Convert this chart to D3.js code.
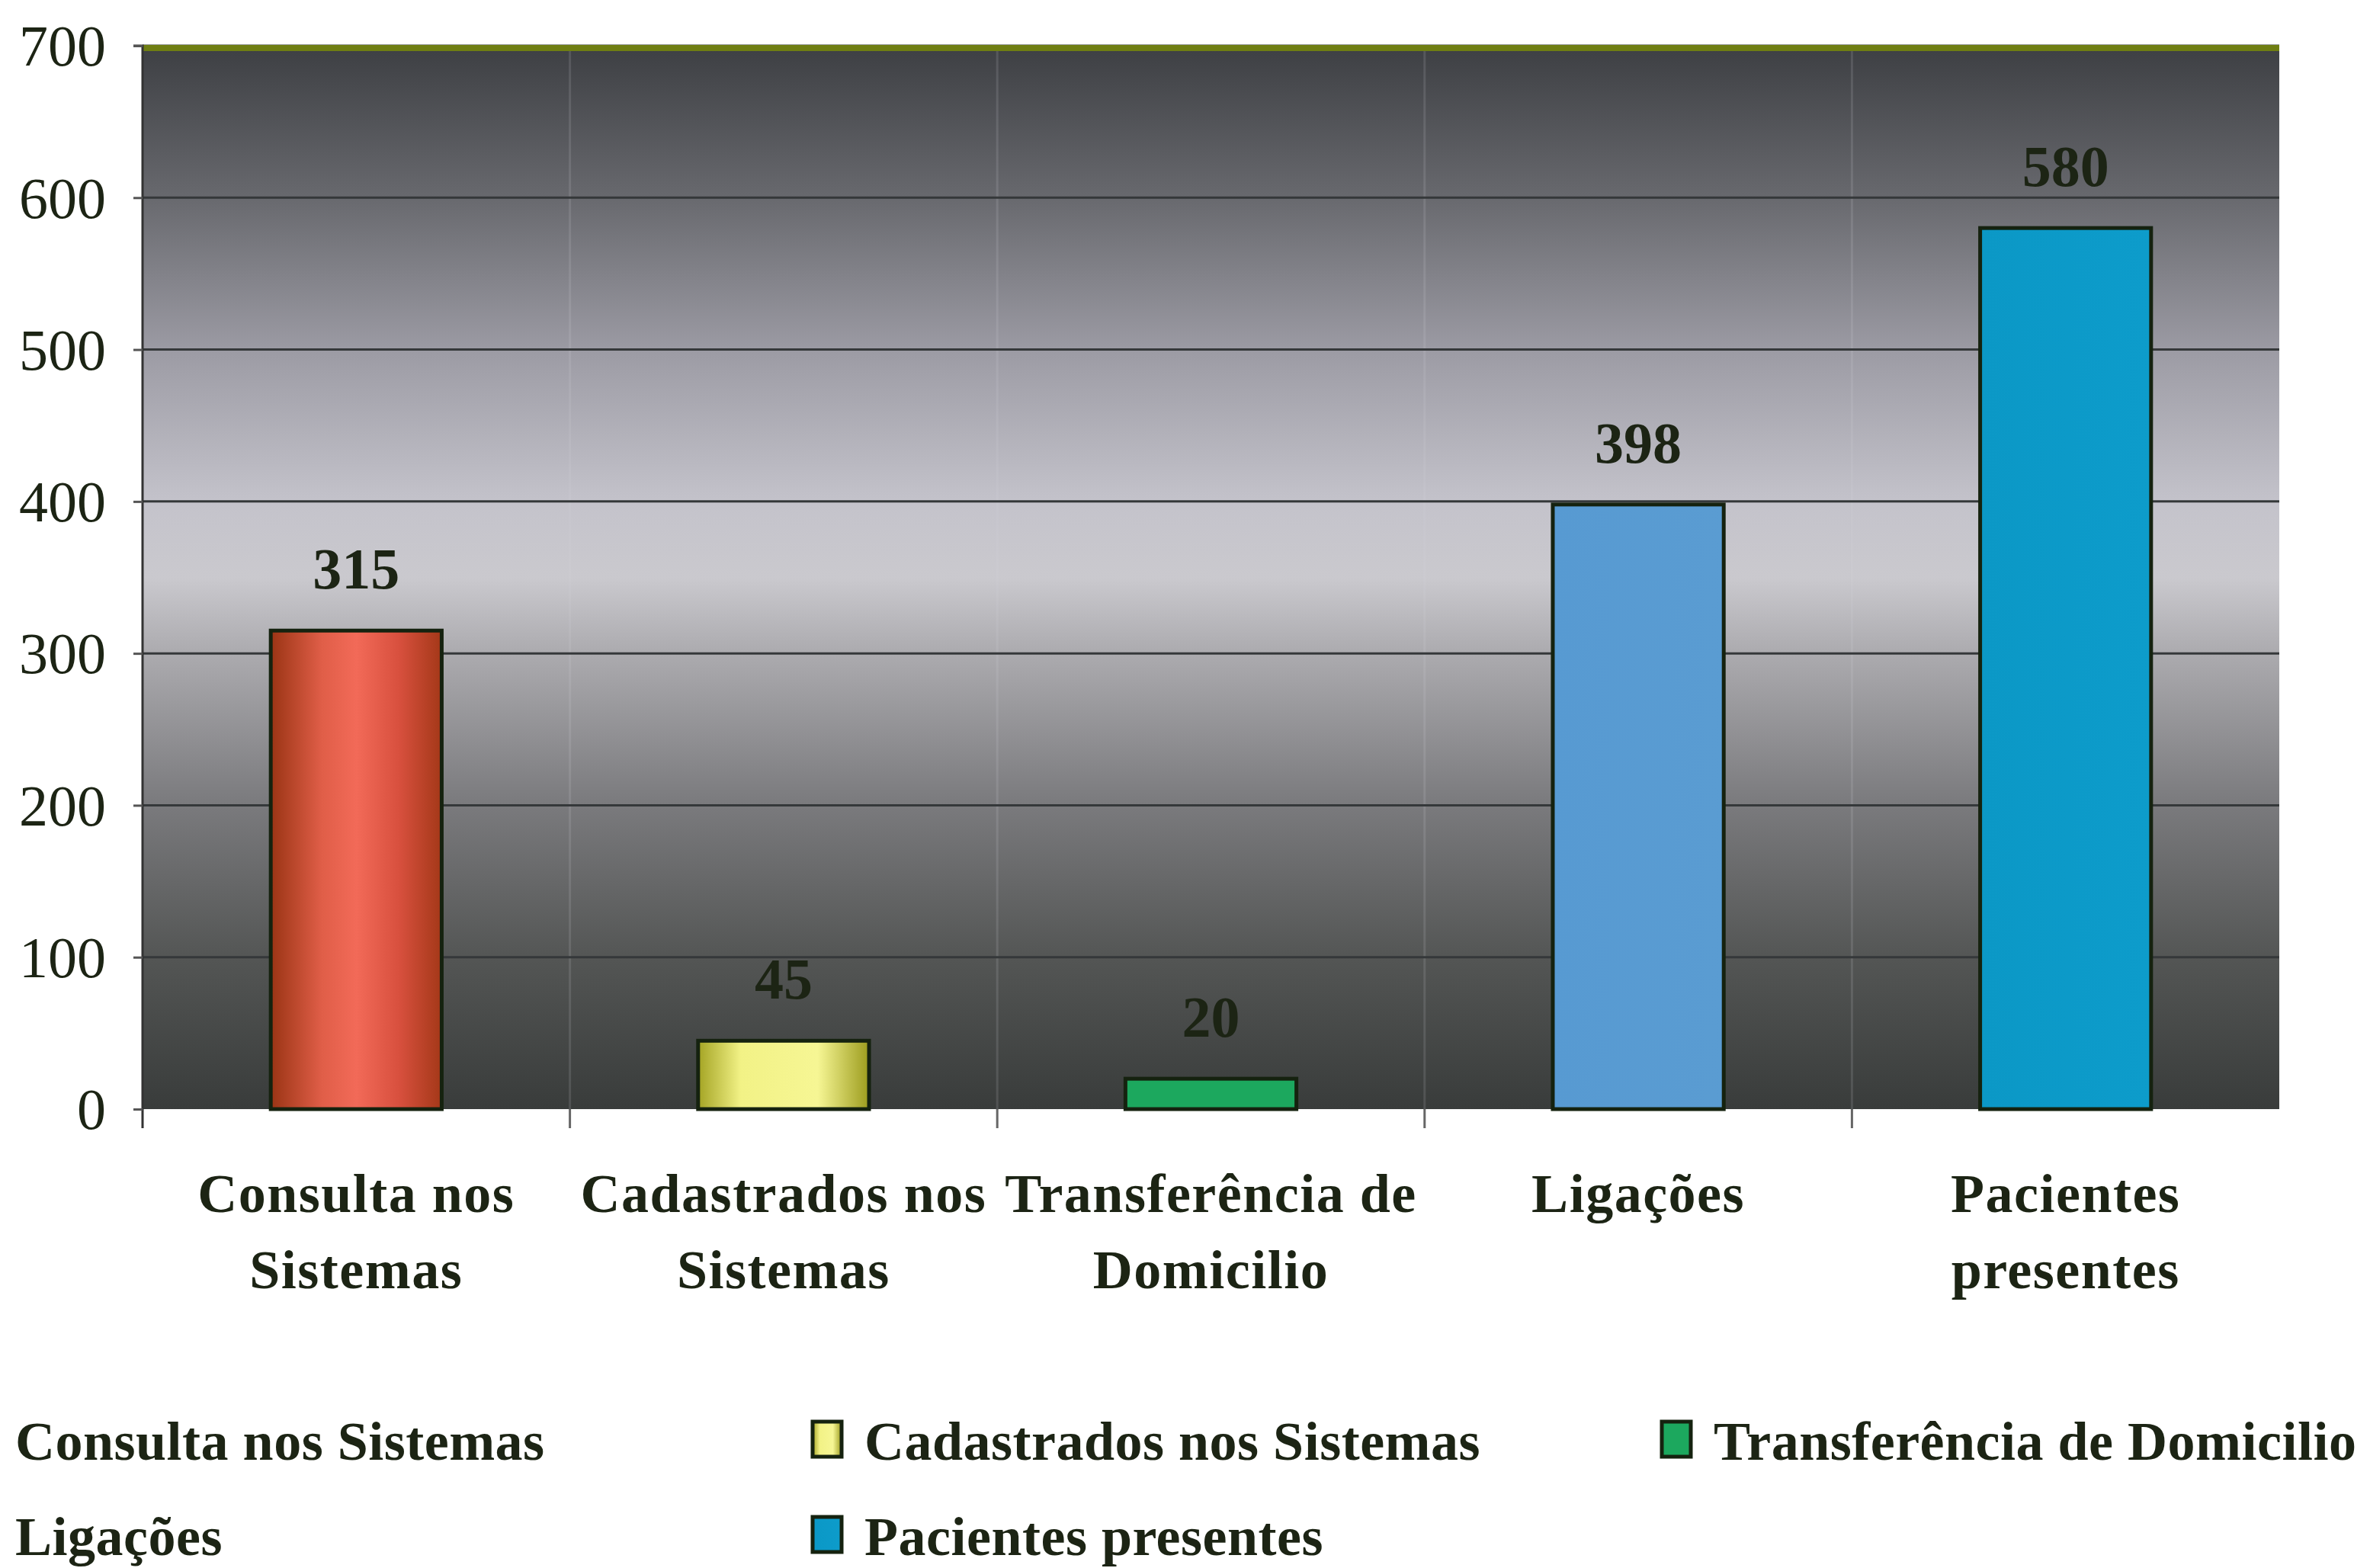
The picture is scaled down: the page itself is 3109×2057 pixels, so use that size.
<!DOCTYPE html>
<html>
<head>
<meta charset="utf-8">
<script src="https://cdn.jsdelivr.net/npm/d3@7"></script>
<style>
  body { margin: 0; background: #fff; }
  text { font-family: "Liberation Serif", "Times New Roman", serif; }
</style>
</head>
<body>
<div class="canvas"></div>
<script>
// chart data
const categories = ['Consulta nos Sistemas', 'Cadastrados nos Sistemas', 'Transferência de Domicilio', 'Ligações', 'Pacientes presentes'];
const values = [315, 45, 20, 398, 580];
// axis labels split on two lines
const axisLines = [['Consulta nos', 'Sistemas'], ['Cadastrados nos', 'Sistemas'], ['Transferência de', 'Domicilio'], ['Ligações'], ['Pacientes', 'presentes']];
const yTicks = [0, 100, 200, 300, 400, 500, 600, 700];
// legend layout: rows of category indexes
const legendRows = [[0, 1, 2], [3, 4]];

// graph setup
const dims = { width: 3109, height: 2057 };
const plot = { left: 187, right: 2990, top: 60, bottom: 1455 };
const textColor = '#1c2414';

const svg = d3.select('.canvas')
  .append('svg')
  .attr('width', dims.width)
  .attr('height', dims.height);

const defs = svg.append('defs');

// background gradient (dark edges, light middle)
const bg = defs.append('linearGradient')
  .attr('id', 'bg').attr('x1', 0).attr('y1', 0).attr('x2', 0).attr('y2', 1);
[[0, '#3d3f43'], [0.14, '#67686d'], [0.29, '#9d9ca5'], [0.43, '#c4c3cb'],
 [0.5, '#cac9ce'], [0.57, '#acabaf'], [0.71, '#7b7b7e'], [0.86, '#535554'], [1, '#393c3b']]
  .forEach(s => bg.append('stop').attr('offset', s[0]).attr('stop-color', s[1]));

// bar fills
const fills = [
  [[0, '#9a3414'], [0.3, '#e05e48'], [0.5, '#f26a58'], [0.75, '#d8503e'], [1, '#a43818']],
  [[0, '#a4a424'], [0.25, '#f2f286'], [0.7, '#f6f694'], [1, '#9c9c1e']],
  [[0, '#1ca85e'], [1, '#1ca85e']],
  [[0, '#579ad2'], [1, '#5a9cd2']],
  [[0, '#0b98c6'], [1, '#0d9ccb']]
];
fills.forEach((stops, i) => {
  const g = defs.append('linearGradient').attr('id', 'bar' + i)
    .attr('x1', 0).attr('y1', 0).attr('x2', 1).attr('y2', 0);
  stops.forEach(s => g.append('stop').attr('offset', s[0]).attr('stop-color', s[1]));
});

// scales
const x = d3.scaleBand()
  .domain(categories)
  .range([plot.left, plot.right])
  .paddingInner(0.6)
  .paddingOuter(0.3);

const y = d3.scaleLinear()
  .domain([0, 700])
  .range([plot.bottom, plot.top]);

// plot background
svg.append('rect')
  .attr('x', plot.left).attr('y', plot.top)
  .attr('width', plot.right - plot.left).attr('height', plot.bottom - plot.top)
  .attr('fill', 'url(#bg)');

// faint vertical streaks at category boundaries
svg.append('g')
  .selectAll('line')
  .data(categories.slice(1))
  .enter().append('line')
  .attr('x1', d => x(d) - x.step() * 0.3).attr('x2', d => x(d) - x.step() * 0.3)
  .attr('y1', plot.top).attr('y2', plot.bottom)
  .attr('stroke', '#d8d8dc').attr('stroke-opacity', 0.15).attr('stroke-width', 3);

// gridlines
svg.append('g')
  .selectAll('line')
  .data(yTicks.slice(1))
  .enter().append('line')
  .attr('x1', plot.left).attr('x2', plot.right)
  .attr('y1', d => y(d)).attr('y2', d => y(d))
  .attr('stroke', '#35383a').attr('stroke-width', 3);

// olive top edge
svg.append('line')
  .attr('x1', plot.left).attr('x2', plot.right)
  .attr('y1', plot.top + 3).attr('y2', plot.top + 3)
  .attr('stroke', '#6f7e12').attr('stroke-width', 8);

// y axis
const yAxis = d3.axisLeft(y)
  .tickValues(yTicks)
  .tickSize(12)
  .tickPadding(36);

const yG = svg.append('g')
  .attr('transform', `translate(${plot.left},0)`)
  .call(yAxis);
yG.select('.domain').attr('stroke', '#333').attr('stroke-width', 3)
  .attr('d', `M-12,${plot.top}H0V${plot.bottom + 25}`);
yG.selectAll('.tick line').attr('stroke', '#555').attr('stroke-width', 3);
yG.selectAll('.tick text')
  .attr('font-family', '"Liberation Serif", serif')
  .attr('font-size', 76)
  .attr('fill', textColor)
  .attr('dy', '0.34em');

// x axis ticks at band boundaries
svg.append('g')
  .selectAll('line')
  .data(categories.slice(1))
  .enter().append('line')
  .attr('x1', d => x(d) - x.step() * 0.3).attr('x2', d => x(d) - x.step() * 0.3)
  .attr('y1', plot.bottom).attr('y2', plot.bottom + 25)
  .attr('stroke', '#666').attr('stroke-width', 3);

// bars
svg.append('g')
  .selectAll('rect')
  .data(values)
  .enter().append('rect')
  .attr('x', (d, i) => x(categories[i]))
  .attr('y', d => y(d))
  .attr('width', x.bandwidth())
  .attr('height', d => plot.bottom - y(d))
  .attr('fill', (d, i) => `url(#bar${i})`)
  .attr('stroke', '#15220f')
  .attr('stroke-width', 5);

// value labels
svg.append('g')
  .selectAll('text')
  .data(values)
  .enter().append('text')
  .attr('x', (d, i) => x(categories[i]) + x.bandwidth() / 2)
  .attr('y', d => y(d) - 55)
  .attr('text-anchor', 'middle')
  .attr('font-size', 76)
  .attr('font-weight', 'bold')
  .attr('fill', textColor)
  .text(d => d);

// category labels
const catG = svg.append('g')
  .selectAll('text')
  .data(axisLines)
  .enter().append('text')
  .attr('text-anchor', 'middle')
  .attr('font-size', 72)
  .attr('font-weight', 'bold')
  .attr('letter-spacing', 1.5)
  .attr('fill', textColor);
catG.selectAll('tspan')
  .data((d, i) => d.map(t => ({ t, i })))
  .enter().append('tspan')
  .attr('x', d => x(categories[d.i]) + x.bandwidth() / 2)
  .attr('y', (d, j) => 1590 + j * 100)
  .text(d => d.t);

// legend
const legCols = [20, 1134, 2248];
const legRowsY = [1915, 2040];
legendRows.forEach((row, r) => {
  row.forEach((ci, c) => {
    const g = svg.append('g')
      .attr('transform', `translate(${legCols[c]},${legRowsY[r]})`);
    g.append('rect')
      .attr('x', -68).attr('y', -50)
      .attr('width', 38).attr('height', 46)
      .attr('fill', `url(#bar${ci})`)
      .attr('stroke', '#15220f').attr('stroke-width', 5);
    g.append('text')
      .attr('font-size', 72)
      .attr('font-weight', 'bold')
      .attr('letter-spacing', 0.5)
      .attr('fill', textColor)
      .text(categories[ci]);
  });
});
</script>
</body>
</html>
